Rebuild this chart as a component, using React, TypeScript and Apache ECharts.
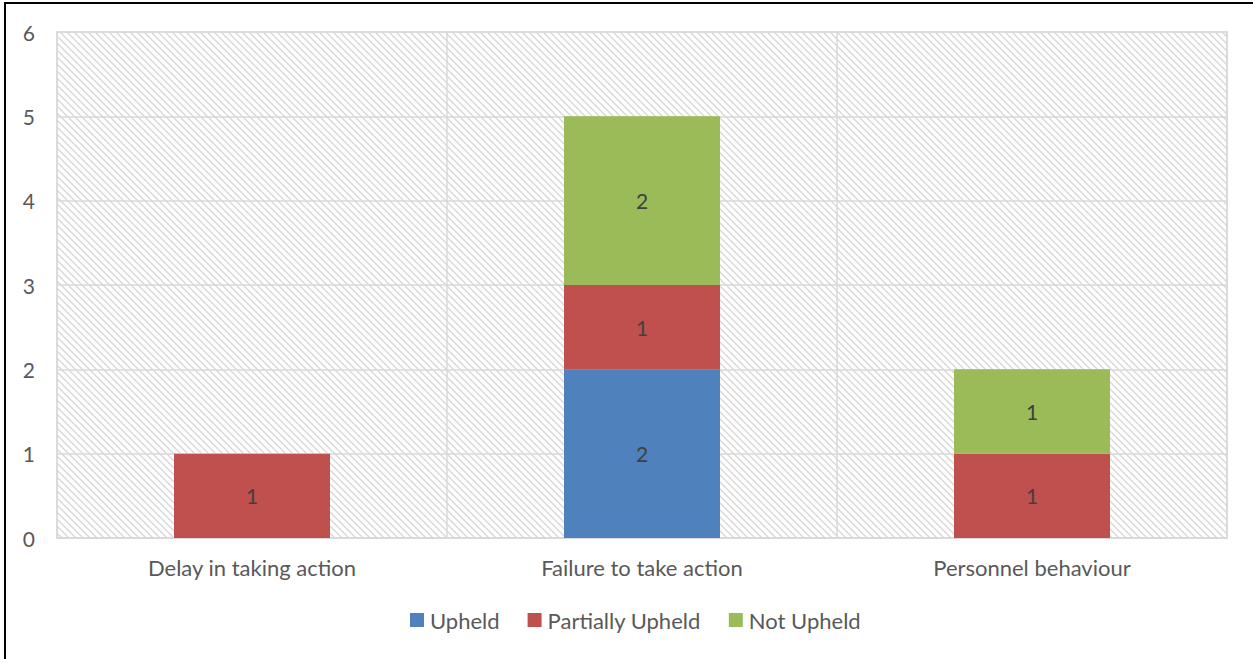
import React, { useEffect, useRef } from "react";
import * as echarts from "echarts";

const categories = ["Delay in taking action", "Failure to take action", "Personnel behaviour"];
const upheld = [0, 2, 0];
const partiallyUpheld = [1, 1, 1];
const notUpheld = [0, 2, 1];
const seriesNames = ["Upheld", "Partially Upheld", "Not Upheld"];
const yTicks = [0, 1, 2, 3, 4, 5, 6];

const FONT = "Lato";

function makeHatch(): HTMLCanvasElement {
  const s = 7;
  const c = document.createElement("canvas");
  c.width = s;
  c.height = s;
  const ctx = c.getContext("2d")!;
  ctx.fillStyle = "#ffffff";
  ctx.fillRect(0, 0, s, s);
  ctx.strokeStyle = "#d6d6d6";
  ctx.lineWidth = 1.3;
  ctx.beginPath();
  ctx.moveTo(-1, -1);
  ctx.lineTo(s + 1, s + 1);
  ctx.moveTo(-1, s - 1);
  ctx.lineTo(1, s + 1);
  ctx.moveTo(s - 1, -1);
  ctx.lineTo(s + 1, 1);
  ctx.stroke();
  return c;
}

export default function App() {
  const ref = useRef<HTMLDivElement>(null);
  useEffect(() => {
    if (!ref.current) return;
    const chart = echarts.init(ref.current, null, { renderer: "svg" });
    const hatch = makeHatch();
    const label = {
      show: true,
      position: "inside" as const,
      color: "#404040",
      fontSize: 21,
      fontFamily: FONT,
      formatter: (p: any) => (p.value ? String(p.value) : ""),
    };
    const colors = ["#4F81BD", "#C0504D", "#9BBB59"];
    const datas = [upheld, partiallyUpheld, notUpheld];
    chart.setOption({
      animation: false,
      color: colors,
      textStyle: { fontFamily: FONT, fontSize: 21 },
      grid: {
        left: 57,
        right: 26,
        top: 32,
        bottom: 121,
        show: true,
        borderColor: "#d9d9d9",
        borderWidth: 1.5,
        backgroundColor: {
          image: hatch,
          repeat: "repeat",
          imageWidth: 7,
          imageHeight: 7,
        } as any,
      },
      legend: {
        bottom: 23,
        left: 405,
        itemWidth: 14,
        itemHeight: 14,
        itemGap: 28,
        icon: "rect",
        textStyle: { color: "#595959", fontSize: 22, fontFamily: FONT, padding: [0, 0, 0, 1] },
        data: seriesNames,
      },
      xAxis: {
        type: "category",
        data: categories,
        axisLine: { show: true, lineStyle: { color: "#d9d9d9", width: 1.5 } },
        axisTick: { show: false },
        splitLine: { show: true, lineStyle: { color: "#d9d9d9", width: 1.5 } },
        axisLabel: { color: "#595959", fontSize: 22, fontFamily: FONT, margin: 18 },
      },
      yAxis: {
        type: "value",
        min: yTicks[0],
        max: yTicks[yTicks.length - 1],
        interval: 1,
        axisLine: { show: false },
        axisTick: { show: false },
        splitLine: { show: true, lineStyle: { color: "#d9d9d9", width: 1.5 } },
        axisLabel: { color: "#595959", fontSize: 21, fontFamily: FONT, margin: 22 },
      },
      series: seriesNames.map((name, i) => ({
        name,
        type: "bar",
        stack: "total",
        barWidth: "40%",
        data: datas[i],
        label,
        itemStyle: { color: colors[i] },
      })),
    });
    return () => chart.dispose();
  }, []);
  return (
    <div style={{ position: "fixed", left: 0, top: 0, width: 1253, height: 659, background: "#fff", overflow: "hidden" }}>
      <div
        style={{
          position: "absolute",
          left: 4,
          top: 2,
          width: 1300,
          height: 700,
          border: "2px solid #000",
          boxSizing: "border-box",
        }}
      />
      <div ref={ref} style={{ position: "absolute", left: 0, top: 0, width: 1253, height: 659 }} />
    </div>
  );
}
